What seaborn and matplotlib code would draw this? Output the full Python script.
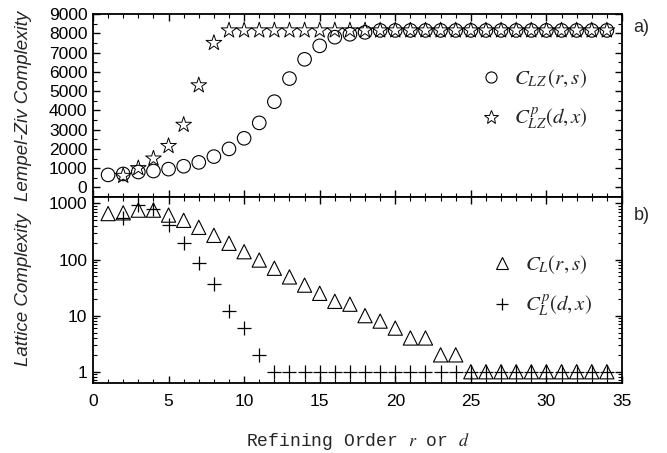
import matplotlib
matplotlib.use("Agg")
import matplotlib.pyplot as plt
import numpy as np
import pandas as pd
import seaborn as sns
from matplotlib.lines import Line2D
from matplotlib.ticker import FixedLocator, MultipleLocator, LogLocator, NullFormatter

sns.set_theme(style="ticks")
plt.rcParams["font.family"] = ["Liberation Sans", "DejaVu Sans"]
plt.rcParams["mathtext.fontset"] = "stix"

# Lempel-Ziv complexity, panel a)
order_lz = [1, 2, 3, 4, 5, 6, 7, 8, 9, 10, 11, 12, 13, 14, 15, 16, 17,
            18, 19, 20, 21, 22, 23, 24, 25, 26, 27, 28, 29, 30, 31, 32, 33, 34]
c_lz = [650, 700, 800, 850, 950, 1100, 1300, 1600, 2000, 2550, 3350, 4450,
        5650, 6650, 7350, 7800, 7950, 8050, 8150, 8150, 8150, 8150, 8150,
        8150, 8150, 8150, 8150, 8150, 8150, 8150, 8150, 8150, 8150, 8150]
order_lz_p = [2, 3, 4, 5, 6, 7, 8, 9, 10, 11, 12, 13, 14, 15, 16, 17, 18,
              19, 20, 21, 22, 23, 24, 25, 26, 27, 28, 29, 30, 31, 32, 33, 34]
c_lz_p = [600, 1000, 1500, 2150, 3250, 5300, 7500, 8150, 8150, 8150, 8150,
          8150, 8150, 8150, 8150, 8150, 8150, 8150, 8150, 8150, 8150, 8150,
          8150, 8150, 8150, 8150, 8150, 8150, 8150, 8150, 8150, 8150, 8150]

# Lattice complexity, panel b)
order_l = order_lz
c_l = [660, 680, 760, 760, 620, 500, 375, 270, 195, 138, 98, 70, 49, 35, 25,
       18, 16, 10, 8, 6, 4, 4, 2, 2, 1, 1, 1, 1, 1, 1, 1, 1, 1, 1]
order_l_p = order_lz_p
c_l_p = [540, 930, 800, 410, 200, 88, 36, 12, 6, 2, 1, 1, 1, 1, 1, 1, 1, 1,
         1, 1, 1, 1, 1, 1, 1, 1, 1, 1, 1, 1, 1, 1, 1]

df_a = pd.DataFrame({"x": order_lz, "y": c_lz})
df_ap = pd.DataFrame({"x": order_lz_p, "y": c_lz_p})
df_b = pd.DataFrame({"x": order_l, "y": c_l})
df_bp = pd.DataFrame({"x": order_l_p, "y": c_l_p})

fig = plt.figure(figsize=(6.67, 4.53), dpi=100)
ax1 = fig.add_axes([0.1394, 0.565, 0.7931, 0.404])
ax2 = fig.add_axes([0.1394, 0.1545, 0.7931, 0.4105], sharex=ax1)

sns.scatterplot(data=df_a, x="x", y="y", ax=ax1, marker="o", s=95,
                facecolors="none", edgecolor="black", linewidth=0.8)
sns.scatterplot(data=df_ap, x="x", y="y", ax=ax1, marker="*", s=140,
                facecolors="none", edgecolor="black", linewidth=0.7)

sns.scatterplot(data=df_b, x="x", y="y", ax=ax2, marker="^", s=105,
                facecolors="none", edgecolor="black", linewidth=0.8)
sns.scatterplot(data=df_bp, x="x", y="y", ax=ax2, marker="+", s=95,
                color="black", linewidth=0.9)

ax1.set_xlim(0, 35)
ax1.set_ylim(-500, 9000)
ax1.yaxis.set_major_locator(MultipleLocator(1000))
ax1.yaxis.set_minor_locator(MultipleLocator(500))
ax1.set_yticks(np.arange(0, 9001, 1000))

ax2.set_yscale("log")
ax2.set_ylim(0.63, 1300)
ax2.yaxis.set_major_locator(FixedLocator([1, 10, 100, 1000]))
ax2.yaxis.set_minor_locator(LogLocator(base=10, subs=np.arange(2, 10)))
ax2.yaxis.set_minor_formatter(NullFormatter())
ax2.set_yticklabels(["1", "10", "100", "1000"])

for ax in (ax1, ax2):
    ax.xaxis.set_major_locator(MultipleLocator(5))
    ax.xaxis.set_minor_locator(MultipleLocator(1))
    ax.tick_params(which="both", direction="in", top=True, right=True,
                   colors="black", labelsize=12.5, pad=4)
    ax.tick_params(which="major", length=5, width=1)
    ax.tick_params(which="minor", length=3, width=0.8)
    for sp in ax.spines.values():
        sp.set_color("black")
        sp.set_linewidth(1.3)
    ax.set_xlabel("")
    ax.set_ylabel("")

ax1.tick_params(labelbottom=False)
ax2.tick_params(axis="x", pad=8)

ax1.set_ylabel("Lempel-Ziv Complexity", fontsize=13.5, style="italic")
ax2.set_ylabel("Lattice Complexity", fontsize=13.5, style="italic")
ax2.set_xlabel(r"Refining Order $r$ or $d$", fontsize=13,
               family=["Liberation Mono", "DejaVu Sans Mono"], labelpad=16)
ax1.yaxis.set_label_coords(-0.115, 0.5)
ax2.yaxis.set_label_coords(-0.115, 0.5)

h_a = [Line2D([], [], ls="", marker="o", mfc="none", mec="black", ms=8, mew=0.8),
       Line2D([], [], ls="", marker="*", mfc="none", mec="black", ms=10, mew=0.7)]
ax1.legend(h_a, [r"$C_{LZ}\,(r,s)$", r"$C^{p}_{LZ}(d,x)$"], frameon=False,
           loc="center left", bbox_to_anchor=(0.69, 0.53), fontsize=15,
           handletextpad=0.4, labelspacing=0.75, handlelength=1.4)

h_b = [Line2D([], [], ls="", marker="^", mfc="none", mec="black", ms=9, mew=0.8),
       Line2D([], [], ls="", marker="+", color="black", ms=9, mew=0.9)]
ax2.legend(h_b, [r"$C_{L}(r,s)$", r"$C^{p}_{L}(d,x)$"], frameon=False,
           loc="center left", bbox_to_anchor=(0.71, 0.52), fontsize=15,
           handletextpad=0.4, labelspacing=0.8, handlelength=1.4)

fig.text(0.962, 0.94, "a)", fontsize=13, ha="center", va="center")
fig.text(0.962, 0.525, "b)", fontsize=13, ha="center", va="center")

fig.savefig("out.png", dpi=100, facecolor="white")
